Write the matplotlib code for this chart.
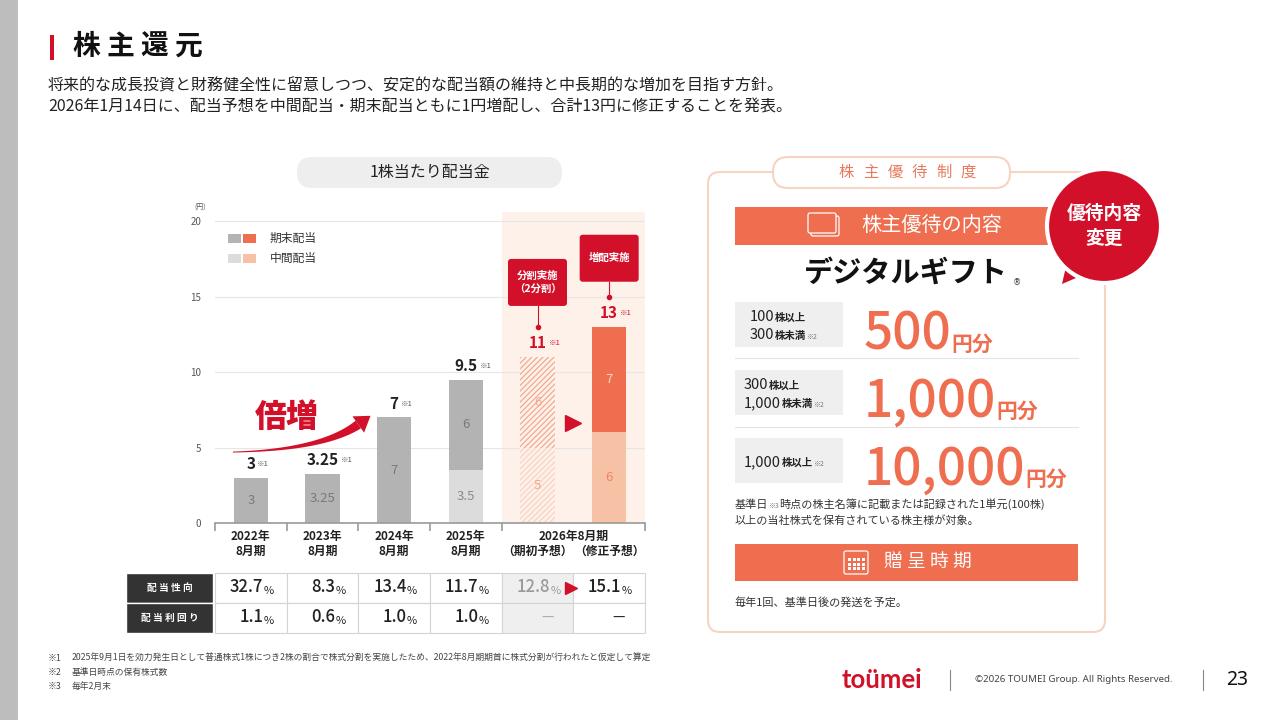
import numpy as np
import matplotlib
matplotlib.use('Agg')
import matplotlib.pyplot as plt
from matplotlib.patches import FancyBboxPatch, Rectangle, Circle, Polygon

plt.rcParams['font.family'] = ['Noto Sans CJK JP', 'DejaVu Sans']
plt.rcParams['hatch.linewidth'] = 0.9

RED = '#d2102a'
ORANGE = '#ee6e4f'
LORANGE = '#f7c1a6'
GRAY = '#b3b3b3'
LGRAY = '#dcdcdc'
PEACH = '#fdf1ea'
PANEL = '#f6d3c3'
DARK = '#222222'

# data
years = ['2022年\n8月期', '2023年\n8月期', '2024年\n8月期', '2025年\n8月期']
forecast_group = '2026年8月期'
forecast_labels = ['（期初予想）', '（修正予想）']
interim = [0, 0, 0, 3.5, 5, 6]
year_end = [3, 3.25, 7, 6, 6, 7]
callouts = ['分割実施\n（2分割）', '増配実施']

payout_ratio = ['32.7', '8.3', '13.4', '11.7', '12.8', '15.1']
div_yield = ['1.1', '0.6', '1.0', '1.0', None, None]
table_rows = ['配 当 性 向', '配 当 利 回 り']

tier_lines = [
    [('100', '株以上', ''), ('300', '株未満', '※2')],
    [('300', '株以上', ''), ('1,000', '株未満', '※2')],
    [('1,000', '株以上', '※2')],
]
gift_values = ['500', '1,000', '10,000']

footnotes = [
    ('※1', '2025年9月1日を効力発生日として普通株式1株につき2株の割合で株式分割を実施したため、2022年8月期期首に株式分割が行われたと仮定して算定'),
    ('※2', '基準日時点の保有株式数'),
    ('※3', '毎年2月末'),
]

fig = plt.figure(figsize=(12.8, 7.2), dpi=100)
fig.patch.set_facecolor('white')

# overlay in pixel coordinates
ov = fig.add_axes([0, 0, 1, 1], zorder=2)
ov.set_xlim(0, 1280)
ov.set_ylim(720, 0)
ov.axis('off')

# chart axes
ax = fig.add_axes([215 / 1280, 197 / 720, 430 / 1280, 311 / 720], zorder=1)
ax.patch.set_alpha(0)
x = np.arange(len(interim))
interim = np.array(interim)
year_end = np.array(year_end)
totals = interim + year_end
ax.set_xlim(-0.5, 5.5)
ax.set_ylim(0, 20.6)


def px(xv, yv):
    d = ax.transData.transform((xv, yv))
    return ov.transData.inverted().transform(d)


def chain(axes, parts, xp, yp, ha='left', gap=0.5, **kw):
    # parts: (text, size, color, weight[, dy])
    seq = parts if ha == 'left' else parts[::-1]
    s, size, color, weight = seq[0][:4]
    prev = axes.text(xp, yp, s, fontsize=size, color=color, fontweight=weight,
                     ha=ha, va='baseline', **kw)
    for p in seq[1:]:
        s, size, color, weight = p[:4]
        dy = p[4] if len(p) > 4 else 0
        if not s:
            continue
        xy = (1, 0) if ha == 'left' else (0, 0)
        prev = axes.annotate(s, xy=xy, xycoords=prev,
                             xytext=(gap if ha == 'left' else -gap, dy),
                             textcoords='offset points', fontsize=size, color=color,
                             fontweight=weight, ha=ha, va='bottom', **kw)
    return prev


# ---- chart ----
ax.axvspan(3.5, 5.5, ymax=1.0, color=PEACH, lw=0, zorder=0)
ax.set_yticks([0, 5, 10, 15, 20])
ax.yaxis.grid(True, color='#e6e6e6', lw=0.8)
ax.set_axisbelow(True)
ax.tick_params(axis='y', length=0, labelsize=7, labelcolor='#555555', pad=10)
ax.set_xticks([-0.5, 0.5, 1.5, 2.5, 3.5, 5.5])
ax.set_xticklabels([])
ax.tick_params(axis='x', length=6, width=1.2, color='#9a9a9a')
for s in ['top', 'right', 'left']:
    ax.spines[s].set_visible(False)
ax.spines['bottom'].set_color('#9a9a9a')
ax.spines['bottom'].set_linewidth(1.2)

w = 0.475
lo_col = [GRAY, GRAY, GRAY, LGRAY, PEACH, LORANGE]
hi_col = [GRAY, GRAY, GRAY, GRAY, PEACH, ORANGE]
for i in range(len(x)):
    if i == 4:
        ax.bar(x[i], interim[i], w, color=PEACH, edgecolor='#f8d3c2', hatch='//////', lw=0, zorder=2)
        ax.bar(x[i], year_end[i], w, bottom=interim[i], color=PEACH, edgecolor='#f1ab90',
               hatch='//////', lw=0, zorder=2)
    else:
        ax.bar(x[i], interim[i], w, color=lo_col[i], lw=0, zorder=2)
        ax.bar(x[i], year_end[i], w, bottom=interim[i], color=hi_col[i], lw=0, zorder=2)

lo_txt = ['#7a7a7a'] * 3 + ['#8a8a8a', '#f0a88c', '#ec8563']
hi_txt = ['#7a7a7a'] * 4 + ['#f0a88c', '#fbd3c2']
for i in range(len(x)):
    if interim[i] > 0:
        ax.text(x[i], interim[i] / 2, f'{interim[i]:g}', ha='center', va='center',
                fontsize=9.5, color=lo_txt[i], zorder=3)
    ax.text(x[i], interim[i] + year_end[i] / 2, f'{year_end[i]:g}', ha='center', va='center',
            fontsize=9.5, color=hi_txt[i], zorder=3)

for i in range(len(x)):
    col = RED if i >= 4 else DARK
    t = ax.annotate(f'{totals[i]:g}', xy=(x[i], totals[i]), xytext=(0, 4),
                    textcoords='offset points', ha='center', va='bottom',
                    fontsize=11, fontweight='bold', color=col)
    ax.annotate('※1', xy=(1, 0), xycoords=t, xytext=(1.5, 3), textcoords='offset points',
                ha='left', va='bottom', fontsize=5.5, color=col if i >= 4 else '#555555')

# x labels
for i, lab in enumerate(years):
    ax.annotate(lab, xy=(x[i], 0), xytext=(0, -21), textcoords='offset pixels',
                ha='center', va='center', fontsize=8.5, fontweight='bold', color=DARK,
                linespacing=1.15)
ax.annotate(forecast_group, xy=(4.5, 0), xytext=(0, -13), textcoords='offset pixels',
            ha='center', va='center', fontsize=8.5, fontweight='bold', color=DARK)
for i, lab in zip([4, 5], forecast_labels):
    ax.annotate(lab, xy=(x[i], 0), xytext=(0, -28), textcoords='offset pixels',
                ha='center', va='center', fontsize=8.5, fontweight='bold', color=DARK)

# 倍増 and arrow
ax.text(0.5, 7.0, '倍増', ha='center', va='center', fontsize=23, fontweight='heavy', color=RED)
ax.plot(4.5, 6.6, marker='>', ms=11, color=RED, zorder=4, clip_on=False)

p0 = px(-0.25, totals[0] + 1.7)
p2 = px(1.67, totals[2] + 0.1)
p1 = np.array([p0[0] + 0.65 * (p2[0] - p0[0]), p0[1] - 2])
u = (p2 - p1) / np.linalg.norm(p2 - p1)
pb = p2 - u * 15
t = np.linspace(0, 1, 60)
curve = ((1 - t) ** 2)[:, None] * p0 + (2 * (1 - t) * t)[:, None] * p1 + (t ** 2)[:, None] * pb
tang = np.gradient(curve, axis=0)
tang /= np.linalg.norm(tang, axis=1)[:, None]
nrm = np.stack([-tang[:, 1], tang[:, 0]], axis=1)
half = 0.5 + 4.2 * t ** 1.4
body = np.vstack([curve + nrm * half[:, None], (curve - nrm * half[:, None])[::-1]])
ov.add_patch(Polygon(body, closed=True, fc=RED, ec='none'))
nb = np.array([-u[1], u[0]])
ov.add_patch(Polygon([p2, pb + nb * 10, pb - nb * 10], closed=True, fc=RED, ec='none'))

# callouts
lifts = [21, 15]
for i, lab, lift in zip([4, 5], callouts, lifts):
    cx, cy = px(x[i], totals[i])
    dot_y = cy - 30
    ov.plot([cx], [dot_y], marker='o', ms=3, color=RED)
    ov.plot([cx, cx], [dot_y, dot_y - lift], color=RED, lw=0.8)
    bx0, by0 = cx - 29.5, dot_y - lift - 47
    ov.add_patch(FancyBboxPatch((bx0, by0), 59, 47, boxstyle='round,pad=0,rounding_size=3',
                                fc=RED, ec='none'))
    ov.text(cx, by0 + 23.5, lab, ha='center', va='center', fontsize=7.5, fontweight='bold',
            color='white', linespacing=1.5)

# y unit
ov.text(200, 208, '(円)', ha='center', va='center', fontsize=5, color='#555555')

# legend
for k, (c1, c2, lab) in enumerate([(GRAY, ORANGE, '期末配当'), (LGRAY, LORANGE, '中間配当')]):
    yy = 234 + k * 20
    ov.add_patch(Rectangle((228, yy), 13, 9, fc=c1, ec='none'))
    ov.add_patch(Rectangle((243, yy), 13, 9, fc=c2, ec='none'))
    ov.text(270, yy + 4.5, lab, ha='left', va='center', fontsize=8.5, color='#333333')

# chart title pill
ov.add_patch(FancyBboxPatch((297, 157), 265, 31, boxstyle='round,pad=0,rounding_size=15',
                            fc='#eeeeee', ec='none'))
ov.text(430, 172.5, '1株当たり配当金', ha='center', va='center', fontsize=11.5, color=DARK)

# ---- table ----
edges = [px(b, 0)[0] for b in [-0.5, 0.5, 1.5, 2.5, 3.5, 4.5, 5.5]]
row_y = [573, 603, 633]
for r in range(2):
    y0, y1 = row_y[r], row_y[r + 1]
    ov.add_patch(Rectangle((126, y0), edges[0] - 128, y1 - y0, fc='#333333', ec='white', lw=1))
    ov.text((126 + edges[0] - 2) / 2, (y0 + y1) / 2, table_rows[r], ha='center', va='center',
            fontsize=7, fontweight='bold', color='white')
    vals = payout_ratio if r == 0 else div_yield
    for c in range(6):
        xl, xr = edges[c], edges[c + 1]
        ov.add_patch(Rectangle((xl, y0), xr - xl, y1 - y0, fc='#efefef' if c == 4 else 'white',
                               ec='#d4d4d4', lw=0.8))
        col = '#9a9a9a' if c == 4 else DARK
        if vals[c] is None:
            ov.text(xr - 20, (y0 + y1) / 2, '—', ha='right', va='center', fontsize=10,
                    color='#aaaaaa' if c == 4 else DARK)
        else:
            chain(ov, [(vals[c], 12, col, 'medium'), ('%', 8, col, 'normal')],
                  xr - 13, (y0 + y1) / 2 + 6, ha='right', gap=0.2)
ov.plot([edges[5] - 2], [(row_y[0] + row_y[1]) / 2], marker='>', ms=8, color=RED)

# ---- header ----
ov.add_patch(Rectangle((0, 0), 18, 720, fc='#bdbdbd', ec='none'))
ov.add_patch(Rectangle((50, 35), 3.5, 25, fc=RED, ec='none'))
for k, ch in enumerate('株主還元'):
    ov.text(72 + k * 34, 47, ch, ha='left', va='center', fontsize=20, fontweight='bold',
            color='#111111')
ov.text(48, 86, '将来的な成長投資と財務健全性に留意しつつ、安定的な配当額の維持と中長期的な増加を目指す方針。',
        ha='left', va='center', fontsize=11.5, color='#222222')
ov.text(48, 107, '2026年1月14日に、配当予想を中間配当・期末配当ともに1円増配し、合計13円に修正することを発表。',
        ha='left', va='center', fontsize=11.5, color='#222222')

# ---- right panel ----
ov.add_patch(FancyBboxPatch((708, 172), 397, 460, boxstyle='round,pad=0,rounding_size=12',
                            fc='white', ec=PANEL, lw=1.5))
ov.add_patch(FancyBboxPatch((773, 157), 237, 31, boxstyle='round,pad=0,rounding_size=15',
                            fc='white', ec=PANEL, lw=1.5))
for k, ch in enumerate('株主優待制度'):
    ov.text(846 + k * 24.5, 172.5, ch, ha='center', va='center', fontsize=11, color='#e8795b')

ov.add_patch(Rectangle((735, 207), 343, 38, fc=ORANGE, ec='none'))
ov.add_patch(FancyBboxPatch((811, 216), 28, 20, boxstyle='round,pad=0,rounding_size=2',
                            fc='none', ec='white', lw=0.9))
ov.add_patch(FancyBboxPatch((808, 213), 28, 20, boxstyle='round,pad=0,rounding_size=2',
                            fc=ORANGE, ec='white', lw=0.9))
ov.text(932, 226, '株主優待の内容', ha='center', va='center', fontsize=14.5, color='white')

ov.add_patch(Polygon([(1068, 258), (1062, 284), (1090, 272)], closed=True, fc=RED, ec='none'))
ov.add_patch(Circle((1104, 226), 57, fc=RED, ec='white', lw=3))
ov.text(1104, 226, '優待内容\n変更', ha='center', va='center', fontsize=13.5, fontweight='bold',
        color='white', linespacing=1.35)

ov.text(906, 273, 'デジタルギフト', ha='center', va='center', fontsize=21, fontweight='bold',
        color='#111111')
ov.text(1017, 283, '®', ha='center', va='center', fontsize=6, color='#333333',
        family=['DejaVu Sans'])

box_y = [302, 370, 438]
base_y = [343, 410, 478]
for k in range(3):
    ov.add_patch(Rectangle((735, box_y[k]), 108, 45, fc='#efefef', ec='none'))
    lines = tier_lines[k]
    x0 = 750 if k == 0 else 744
    ys = [box_y[k] + 19, box_y[k] + 37] if len(lines) == 2 else [box_y[k] + 28]
    for (num, unit, note), yy in zip(lines, ys):
        chain(ov, [(num, 10.5, '#222222', 'normal'), (unit, 7.5, '#222222', 'bold', 0.8),
                   (note, 5, '#777777', 'normal')], x0, yy, gap=0.3)
    chain(ov, [(gift_values[k], 37, ORANGE, 'medium'), ('円分', 15, ORANGE, 'bold', 4.5)],
          864, base_y[k] + 7, gap=0)
for yy in [358, 427]:
    ov.plot([735, 1078], [yy, yy], color='#e4e4e4', lw=0.8)

chain(ov, [('基準日', 8, '#333333', 'normal'), ('※3', 5, '#777777', 'normal'),
           ('時点の株主名簿に記載または記録された1単元(100株)', 8, '#333333', 'normal')],
      735, 508, gap=0)
ov.text(735, 524, '以上の当社株式を保有されている株主様が対象。', ha='left', va='baseline',
        fontsize=8, color='#333333')

ov.add_patch(Rectangle((735, 544), 343, 37, fc=ORANGE, ec='none'))
ov.add_patch(FancyBboxPatch((844, 551), 24, 23, boxstyle='round,pad=0,rounding_size=2',
                            fc='none', ec='white', lw=0.9))
for gx in range(4):
    for gy in range(3):
        ov.add_patch(Rectangle((848 + gx * 4.5, 558 + gy * 4.5), 3, 3, fc='white', ec='none'))
ov.text(928, 562.5, '贈 呈 時 期', ha='center', va='center', fontsize=13.5, color='white')
ov.text(735, 602, '毎年1回、基準日後の発送を予定。', ha='left', va='center', fontsize=8,
        color='#333333')

# ---- footnotes / footer ----
for k, (mark, txt) in enumerate(footnotes):
    ov.text(48, 658 + k * 14, mark, ha='left', va='center', fontsize=6.3, color='#444444')
    ov.text(72, 658 + k * 14, txt, ha='left', va='center', fontsize=6.3, color='#444444')

ov.text(842, 680, 'toümei', ha='left', va='center', fontsize=18.5, fontweight='bold', color=RED,
        family=['Lato', 'DejaVu Sans'])
ov.plot([950, 950], [670, 690], color='#888888', lw=0.8)
ov.text(975, 680, '©2026 TOUMEI Group. All Rights Reserved.', ha='left', va='center',
        fontsize=7, color='#444444', family=['Noto Sans', 'DejaVu Sans'])
ov.plot([1203, 1203], [670, 690], color='#888888', lw=0.8)
ov.text(1226, 680, '23', ha='left', va='center', fontsize=14, color='#111111',
        family=['Noto Sans', 'DejaVu Sans'])

fig.savefig('out.png', dpi=100)
